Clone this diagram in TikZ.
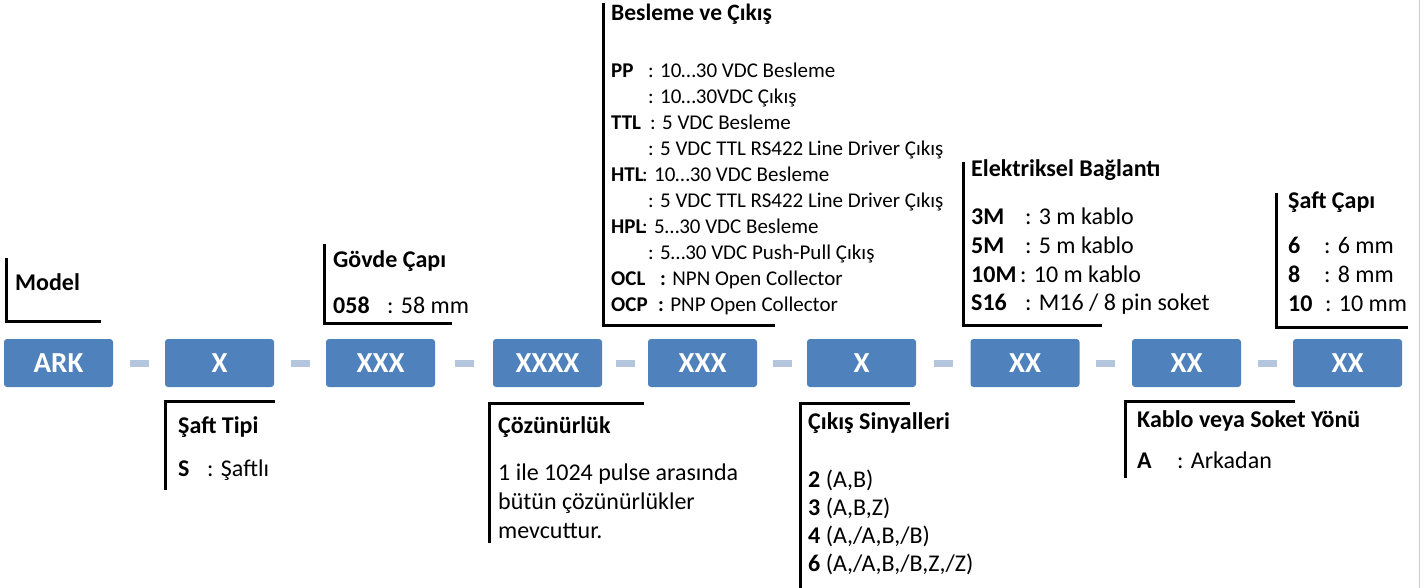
\documentclass[tikz,border=0pt]{standalone}
\usepackage{fontspec}
\setmainfont{Carlito}
\usetikzlibrary{calc}

\definecolor{boxblue}{RGB}{79,129,189}
\definecolor{dashblue}{RGB}{180,198,222}
\definecolor{edgegray}{RGB}{205,205,205}

\tikzset{
  codebox/.style={fill=boxblue, rounded corners=3pt, minimum width=109pt,
    minimum height=48pt, inner sep=0pt, text=white,
    font=\fontsize{29}{34}\selectfont\bfseries},
  sep/.style={fill=dashblue, minimum width=19pt, minimum height=7pt, inner sep=0pt},
  bracket/.style={line width=3pt, black},
  head/.style={anchor=base west, inner sep=0pt, font=\fontsize{24}{29}\selectfont\bfseries},
  txt/.style={anchor=base west, inner sep=0pt, font=\fontsize{24}{29}\selectfont},
  smallhead/.style={anchor=base west, inner sep=0pt, font=\fontsize{23.5}{28}\selectfont\bfseries},
  smalltxt/.style={anchor=base west, inner sep=0pt, font=\fontsize{21}{26}\selectfont},
}

\begin{document}
\begin{tikzpicture}[x=1pt,y=-1pt]
  \useasboundingbox (0,0) rectangle (1424,588);
  \draw[edgegray, line width=1.5pt] (1419.5,0) -- (1419.5,588);

  % code boxes
  \foreach \n/\x/\t in {ark/58.5/ARK, tip/219.5/X, govde/380.5/XXX, coz/547.5/XXXX,
      bes/702.5/XXX, cik/861.5/X, elk/1025/XX, kab/1186.5/XX, sap/1347.5/XX}
    \node[codebox] (\n) at (\x,363) {\t};
  \foreach \a/\b in {ark/tip, tip/govde, govde/coz, coz/bes, bes/cik, cik/elk, elk/kab, kab/sap}
    \node[sep] (sep-\a) at ($(\a.east)!0.5!(\b.west)+(0,0.5)$) {};

  % brackets above
  \draw[bracket] (6.5,258) |- (101,321);
  \draw[bracket] (324,244) |- (452,323);
  \draw[bracket] (603.5,3) |- (775,325);
  \draw[bracket] (963.5,162) |- (1102,325);
  \draw[bracket] (1276,193) |- (1408,327);

  % brackets below
  \draw[bracket] (165,490) |- (275,401.5);
  \draw[bracket] (489,543) |- (644,403.5);
  \draw[bracket] (800.5,588) |- (910,403.5);
  \draw[bracket] (1125,478) |- (1295,401);

  % Model
  \node[head] (model) at (15,290) {Model};

  % Gövde Çapı
  \node[head] (govde-h) at (333,267) {Gövde Çapı};
  \node[head] (govde-k) at (333,313) {058};
  \node[txt] (govde-v) at (387,313) {: 58 mm};

  % Besleme ve Çıkış
  \node[smallhead] (bes-h) at (611,21) {Besleme ve Çıkış};
  \foreach \k/\cx/\t [count=\i] in {
      PP/648/{: 10…30 VDC Besleme},
      {}/648/{: 10…30VDC Çıkış},
      TTL/650/{: 5 VDC Besleme},
      {}/648/{: 5 VDC TTL RS422 Line Driver Çıkış},
      HTL/642/{: 10…30 VDC Besleme},
      {}/648/{: 5 VDC TTL RS422 Line Driver Çıkış},
      HPL/642/{: 5…30 VDC Besleme},
      {}/648/{: 5…30 VDC Push-Pull Çıkış},
      OCL/660/{\textbf{:} NPN Open Collector},
      OCP/658/{\textbf{:} PNP Open Collector}} {
    \node[smalltxt, font=\fontsize{21}{26}\selectfont\bfseries] (bes-k\i) at (611,{78+25.9*(\i-1)}) {\k};
    \node[smalltxt] (bes-v\i) at (\cx,{78+25.9*(\i-1)}) {\t};
  }

  % Elektriksel Bağlantı
  \node[head] (elk-h) at (971,177) {Elektriksel Bağlantı};
  \foreach \k/\cx/\t [count=\i] in {3M/1025/{: 3 m kablo}, 5M/1025/{: 5 m kablo},
      10M/1020/{: 10 m kablo}, S16/1025/{: M16 / 8 pin soket}} {
    \node[head] (elk-k\i) at (971,{225+28.6*(\i-1)}) {\k};
    \node[txt] (elk-v\i) at (\cx,{225+28.6*(\i-1)}) {\t};
  }

  % Şaft Çapı
  \node[head] (sap-h) at (1288,209) {Şaft Çapı};
  \foreach \k/\cx/\t [count=\i] in {6/1324/{: 6 mm}, 8/1324/{: 8 mm}, 10/1325/{: 10 mm}} {
    \node[head] (sap-k\i) at (1288,{253+29*(\i-1)}) {\k};
    \node[txt] (sap-v\i) at (\cx,{253+29*(\i-1)}) {\t};
  }

  % Şaft Tipi
  \node[head] (tip-h) at (178,433) {Şaft Tipi};
  \node[head] (tip-k) at (178,476) {S};
  \node[txt] (tip-v) at (207,476) {: Şaftlı};

  % Çözünürlük
  \node[head] (coz-h) at (498,433) {Çözünürlük};
  \node[txt] (coz-1) at (498,480) {1 ile 1024 pulse arasında};
  \node[txt] (coz-2) at (498,509) {bütün çözünürlükler};
  \node[txt] (coz-3) at (498,538) {mevcuttur.};

  % Çıkış Sinyalleri
  \node[head] (cik-h) at (808,429) {Çıkış Sinyalleri};
  \foreach \k/\t [count=\i] in {2/{(A,B)}, 3/{(A,B,Z)}, 4/{(A,/A,B,/B)}, 6/{(A,/A,B,/B,Z,/Z)}}
    \node[txt] (cik-\i) at (808,{487+28.3*(\i-1)}) {\textbf{\k} \t};

  % Kablo veya Soket Yönü
  \node[head] (kab-h) at (1137,427) {Kablo veya Soket Yönü};
  \node[head] (kab-k) at (1137,468) {A};
  \node[txt] (kab-v) at (1177,468) {: Arkadan};
\end{tikzpicture}
\end{document}
